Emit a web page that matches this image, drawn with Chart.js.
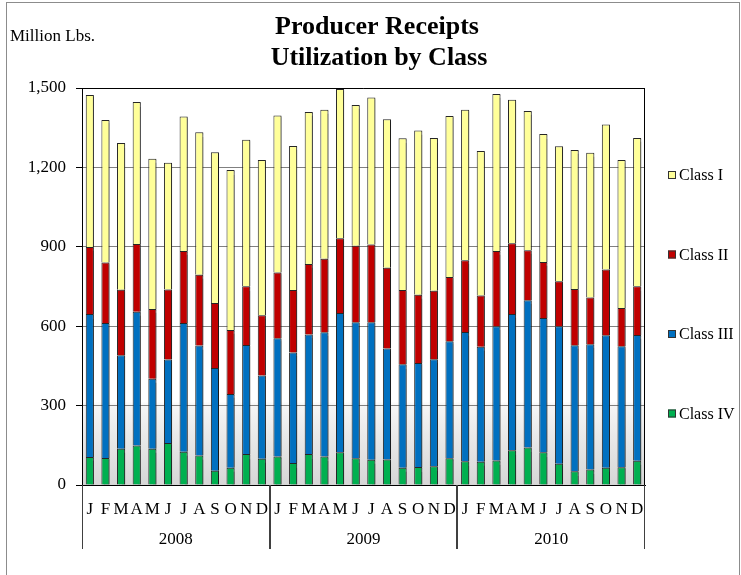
<!DOCTYPE html>
<html>
<head>
<meta charset="utf-8">
<script src="https://cdn.jsdelivr.net/npm/chart.js@4.4.0/dist/chart.umd.min.js"></script>
<style>
  html, body { margin: 0; padding: 0; background: #fff; }
  #wrap { position: relative; width: 741px; height: 575px; }
</style>
</head>
<body>
<div id="wrap"><canvas id="chart" width="741" height="575"></canvas></div>
<script>
/* Producer receipts, utilization by class, monthly 2008-2010 (million lbs). */

const MONTHS = ['J','F','M','A','M','J','J','A','S','O','N','D'];
const YEARS  = ['2008','2009','2010'];

const CLASS_IV  = [106,102,137,149,137,159,126,111, 54, 65,117, 99,
                   108, 83,117,108,124,101, 95, 96, 65, 68, 71,101,
                    90, 88, 93,131,142,124, 80, 52, 59, 65, 67, 92];
const CLASS_III = [540,510,353,506,264,315,486,416,388,279,412,315,
                   446,418,452,469,526,514,520,420,391,393,404,442,
                   488,434,507,515,556,507,520,476,473,501,457,475];
const CLASS_II  = [253,229,248,256,264,265,272,267,246,242,222,227,
                   249,236,266,278,282,289,294,305,281,258,259,243,
                   271,194,284,267,189,212,170,213,176,248,145,184];
const CLASS_I   = [575,538,554,536,568,479,508,539,569,604,553,587,
                   593,544,574,563,564,532,555,561,573,620,577,608,
                   569,546,593,543,526,483,510,525,547,548,559,560];

const labels = [];
YEARS.forEach(() => MONTHS.forEach(m => labels.push(m)));

const SERIF = '"Liberation Serif", "Times New Roman", serif';

// background, frame, gradient plot area
const backdrop = {
  id: 'backdrop',
  beforeDraw(chart) {
    const { ctx, chartArea: a } = chart;
    ctx.save();
    ctx.fillStyle = '#fff';
    ctx.fillRect(0, 0, chart.width, chart.height);
    ctx.strokeStyle = '#8c8c8c';
    ctx.lineWidth = 1;
    ctx.strokeRect(6.5, 2.5, 733, 620);
    const g = ctx.createLinearGradient(0, a.top, 0, a.bottom);
    g.addColorStop(0, '#ffffff');
    g.addColorStop(0.79, '#ffffff');
    g.addColorStop(0.80, '#f5f5f5');
    g.addColorStop(1, '#d6d6d6');
    ctx.fillStyle = g;
    ctx.fillRect(a.left, a.top, a.right - a.left, a.bottom - a.top);
    ctx.restore();
  },
  beforeDatasetDraw(chart) {
    const ctx = chart.ctx;
    ctx.save();
    ctx.shadowColor = 'rgba(0,0,0,0.35)';
    ctx.shadowOffsetX = 2;
    ctx.shadowOffsetY = 1;
    ctx.shadowBlur = 1;
  },
  afterDatasetDraw(chart) {
    chart.ctx.restore();
  }
};

// plot border, year groups, legend, titles
const decor = {
  id: 'decor',
  afterDraw(chart) {
    const { ctx, chartArea: a, scales: { x } } = chart;
    ctx.save();
    ctx.strokeStyle = '#000';
    ctx.lineWidth = 1;
    ctx.beginPath();
    ctx.moveTo(a.left, a.top + 0.5); ctx.lineTo(a.right, a.top + 0.5);
    ctx.moveTo(a.right - 0.5, a.top); ctx.lineTo(a.right - 0.5, a.bottom);
    ctx.stroke();

    // year separators + labels
    const half = (x.getPixelForValue(1) - x.getPixelForValue(0)) / 2;
    ctx.strokeStyle = '#404040';
    ctx.fillStyle = '#000';
    ctx.font = '17px ' + SERIF;
    ctx.textAlign = 'center';
    ctx.textBaseline = 'middle';
    YEARS.forEach((yr, i) => {
      const x0 = x.getPixelForValue(i * 12) - half;
      const x1 = x.getPixelForValue(i * 12 + 11) + half;
      ctx.beginPath();
      ctx.moveTo(Math.round(x0) + 0.5, a.bottom); ctx.lineTo(Math.round(x0) + 0.5, a.bottom + 64);
      ctx.moveTo(Math.round(x1) - 0.5, a.bottom); ctx.lineTo(Math.round(x1) - 0.5, a.bottom + 64);
      ctx.stroke();
      ctx.fillText(yr, (x0 + x1) / 2, a.bottom + 55);
    });

    // legend, top to bottom Class I .. Class IV
    const items = chart.data.datasets.slice().reverse();
    ctx.textAlign = 'left';
    ctx.font = '16px ' + SERIF;
    items.forEach((ds, i) => {
      const cy = 175 + i * 79.5;
      ctx.fillStyle = ds.backgroundColor;
      ctx.fillRect(668, cy - 4, 8, 8);
      ctx.strokeStyle = '#333';
      ctx.strokeRect(668.5, cy - 3.5, 7, 7);
      ctx.fillStyle = '#000';
      ctx.fillText(ds.label, 679, cy + 1);
    });

    // titles
    ctx.textAlign = 'center';
    ctx.font = 'bold 26px ' + SERIF;
    ctx.fillText('Producer Receipts', 377, 27);
    ctx.fillText('Utilization by Class', 379, 58);
    ctx.textAlign = 'left';
    ctx.font = '17px ' + SERIF;
    ctx.fillText('Million Lbs.', 10, 37);
    ctx.restore();
  }
};

const mkSet = (label, data, color) => ({
  label, data,
  backgroundColor: color,
  borderColor: '#262626',
  borderWidth: 1,
  categoryPercentage: 1,
  barPercentage: 0.52
});

new Chart(document.getElementById('chart'), {
  type: 'bar',
  data: {
    labels,
    datasets: [
      mkSet('Class IV',  CLASS_IV,  '#00b050'),
      mkSet('Class III', CLASS_III, '#0070c0'),
      mkSet('Class II',  CLASS_II,  '#c00000'),
      mkSet('Class I',   CLASS_I,   '#ffff99')
    ]
  },
  options: {
    responsive: false,
    animation: false,
    devicePixelRatio: 1,
    layout: { padding: { top: 88, right: 96, left: 0, bottom: 0 } },
    plugins: { legend: { display: false }, title: { display: false }, tooltip: { enabled: false } },
    scales: {
      x: {
        stacked: true,
        grid: { display: false, drawTicks: false },
        border: { color: '#000' },
        ticks: { color: '#000', font: { family: SERIF, size: 17 }, padding: 14, autoSkip: false, maxRotation: 0 },
        afterFit: s => { s.height = 90; }
      },
      y: {
        stacked: true,
        min: 0, max: 1500,
        grid: { color: '#808080', tickColor: '#000', tickLength: 6 },
        border: { color: '#000' },
        ticks: { stepSize: 300, color: '#000', padding: 10, font: { family: SERIF, size: 17 },
                 callback: v => v.toLocaleString('en-US') },
        afterFit: s => { s.width = 82; }
      }
    }
  },
  plugins: [backdrop, decor]
});
</script>
</body>
</html>
